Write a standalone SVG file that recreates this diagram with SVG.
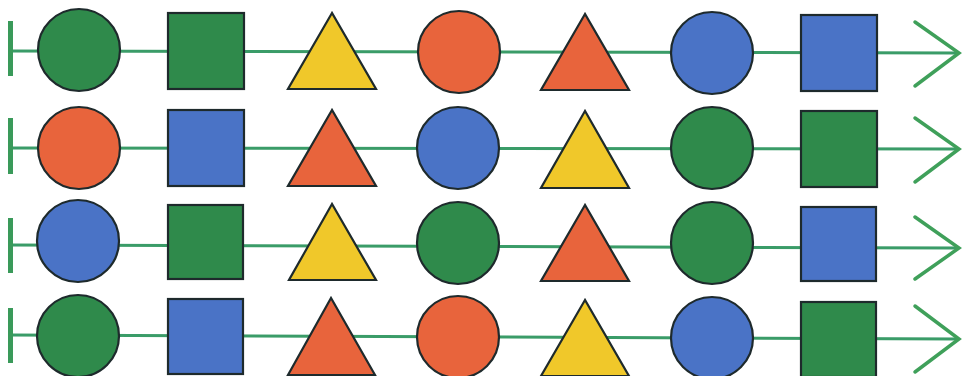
<svg xmlns="http://www.w3.org/2000/svg" width="962" height="376" viewBox="0 0 962 376">
<style>
.s{stroke:#1e2a2c;stroke-width:2.2;stroke-linejoin:miter}
.g{fill:#2f8a4b}.b{fill:#4a73c6}.o{fill:#e8643c}.y{fill:#f0c82a}
.ln{stroke:#3a9c68;stroke-width:3;fill:none}
.bar{stroke:#3a9a5a;stroke-width:5;fill:none}
.ar{stroke:#3fa05a;stroke-width:3.5;fill:none;stroke-linecap:round;stroke-linejoin:miter}
</style>
<rect width="962" height="376" fill="#ffffff"/>
<g id="connectors">
<line class="ln" x1="10" y1="51" x2="958" y2="53"/>
<line class="ln" x1="10" y1="148" x2="958" y2="149"/>
<line class="ln" x1="10" y1="245" x2="958" y2="248"/>
<line class="ln" x1="10" y1="335" x2="958" y2="339"/>
<line class="bar" x1="10.5" y1="21" x2="10.5" y2="76"/>
<line class="bar" x1="10.5" y1="118" x2="10.5" y2="174"/>
<line class="bar" x1="10.5" y1="218" x2="10.5" y2="273"/>
<line class="bar" x1="10.5" y1="308" x2="10.5" y2="363"/>
<polyline class="ar" points="915,22 959,53 915,86"/>
<polyline class="ar" points="915,118 959,149 915,182"/>
<polyline class="ar" points="915,217 959,248 915,279"/>
<polyline class="ar" points="915,306 959,339 915,372"/>
</g>
<g id="r1c1"><circle class="s g" cx="79" cy="50" r="41"/></g>
<g id="r1c2"><rect class="s g" x="168" y="13" width="76" height="76"/></g>
<g id="r1c3"><polygon class="s y" points="332,13 288,89 376,89"/></g>
<g id="r1c4"><circle class="s o" cx="459" cy="52" r="41"/></g>
<g id="r1c5"><polygon class="s o" points="585,14 541,90 629,90"/></g>
<g id="r1c6"><circle class="s b" cx="712" cy="53" r="41"/></g>
<g id="r1c7"><rect class="s b" x="801" y="15" width="76" height="76"/></g>

<g id="r2c1"><circle class="s o" cx="79" cy="148" r="41"/></g>
<g id="r2c2"><rect class="s b" x="168" y="110" width="76" height="76"/></g>
<g id="r2c3"><polygon class="s o" points="332,110 288,186 376,186"/></g>
<g id="r2c4"><circle class="s b" cx="458" cy="148" r="41"/></g>
<g id="r2c5"><polygon class="s y" points="585,111 541,188 629,188"/></g>
<g id="r2c6"><circle class="s g" cx="712" cy="148" r="41"/></g>
<g id="r2c7"><rect class="s g" x="801" y="111" width="76" height="76"/></g>

<g id="r3c1"><circle class="s b" cx="78" cy="241" r="41"/></g>
<g id="r3c2"><rect class="s g" x="168" y="205" width="75" height="74"/></g>
<g id="r3c3"><polygon class="s y" points="332,204 289,280 376,280"/></g>
<g id="r3c4"><circle class="s g" cx="458" cy="243" r="41"/></g>
<g id="r3c5"><polygon class="s o" points="585,205 541,281 629,281"/></g>
<g id="r3c6"><circle class="s g" cx="712" cy="243" r="41"/></g>
<g id="r3c7"><rect class="s b" x="801" y="207" width="75" height="74"/></g>

<g id="r4c1"><circle class="s g" cx="78" cy="336" r="41"/></g>
<g id="r4c2"><rect class="s b" x="168" y="299" width="75" height="75"/></g>
<g id="r4c3"><polygon class="s o" points="331,298 288,375 375,375"/></g>
<g id="r4c4"><circle class="s o" cx="458" cy="337" r="41"/></g>
<g id="r4c5"><polygon class="s y" points="585,300 541,376 629,376"/></g>
<g id="r4c6"><circle class="s b" cx="712" cy="338" r="41"/></g>
<g id="r4c7"><rect class="s g" x="801" y="302" width="75" height="75"/></g>
</svg>
